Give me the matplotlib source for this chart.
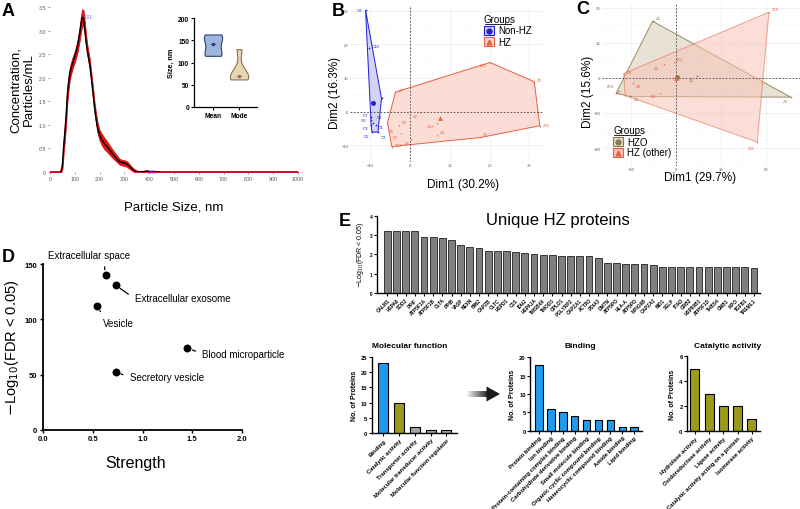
import numpy as np
import matplotlib
matplotlib.use("Agg")
import matplotlib.pyplot as plt
from matplotlib.patches import Rectangle, Polygon
from matplotlib.lines import Line2D

plt.rcParams['font.family'] = ['Liberation Sans', 'DejaVu Sans']

# ---------------- DATA ----------------
# A: NTA size distribution
nta_size = [0, 40, 45, 50, 55, 60, 65, 70, 75, 80, 90, 100, 110, 120, 125, 130, 135, 140, 145, 150,
            155, 160, 170, 180, 190, 200, 210, 220, 230, 240, 250, 260, 270, 280, 290, 300, 310, 320,
            330, 340, 350, 360, 380, 389, 400, 450, 1000]
nta_conc = [0, 0, 0.02, 0.15, 0.55, 0.85, 1.2, 1.65, 1.9, 2.1, 2.3, 2.45, 2.65, 2.95, 3.15, 3.28, 3.27,
            3.05, 2.8, 2.6, 2.45, 2.3, 1.85, 1.35, 0.98, 0.78, 0.68, 0.6, 0.54, 0.47, 0.4, 0.34, 0.28,
            0.22, 0.2, 0.19, 0.17, 0.12, 0.07, 0.03, 0.01, 0, 0.01, 0.02, 0.01, 0, 0]
nta_err = [0, 0, 0.03, 0.1, 0.15, 0.17, 0.18, 0.17, 0.15, 0.13, 0.12, 0.12, 0.13, 0.15, 0.17, 0.18, 0.17,
           0.15, 0.13, 0.12, 0.11, 0.11, 0.11, 0.11, 0.11, 0.11, 0.12, 0.12, 0.11, 0.1, 0.09, 0.08, 0.07,
           0.06, 0.06, 0.06, 0.06, 0.05, 0.04, 0.03, 0.02, 0.01, 0.01, 0.02, 0.01, 0, 0]
nta_peak_labels = [(131, 3.3, "131"), (389, 0.02, "389")]

# A inset: sizes
inset_groups = ["Mean", "Mode"]
size_mean = [115, 120, 141, 158, 163]
size_mode = [62, 66, 70, 76, 130]

# B: PCA Non-HZ vs HZ
b_nonhz_lab = ["C1", "C2", "C3", "C4", "C5", "C6", "C7", "C8", "C9", "C10"]
b_nonhz_x = [-9.2, -8.0, -9.7, -8.5, -9.5, -9.7, -9.7, -11.1, -7.1, -10.3]
b_nonhz_y = [-3.3, -6.1, -4.0, -4.0, -6.1, -2.6, -1.7, 30.2, 3.9, 18.8]
b_hz_lab = ["Z1", "Z2", "Z3", "Z4", "Z5", "Z6", "Z7", "Z8", "Z9", "Z10", "Z11", "Z12", "Z13"]
b_hz_x = [-3.6, 2.6, 31.2, 6.7, 17.8, 0.4, -2.1, -5.6, -2.8, 20.1, 32.6, 6.9, -4.5]
b_hz_y = [5.8, 0.0, 8.9, -7.0, -7.7, -8.2, -6.3, -3.3, -4.0, 14.6, -4.2, -3.4, -10.4]

# C: PCA HZO vs HZ (other)
c_hzo_lab = ["Z1", "Z3", "Z5", "Z6", "Z13"]
c_hzo_x = [-5.2, 25.5, 4.6, -10.1, -13.3]
c_hzo_y = [16.1, -5.5, 0.4, -5.3, -4.4]
c_oth_lab = ["Z10", "Z11", "Z8", "Z7", "Z9", "Z2", "Z12", "Z4"]
c_oth_x = [20.7, 18.1, -11.6, -11.3, -9.5, -2.7, -0.4, -3.6]
c_oth_y = [18.7, -18.3, 1.2, -5.0, -1.6, 3.8, 4.5, -4.2]

# D: GO cellular component
d_terms = ["Extracellular space", "Extracellular exosome", "Vesicle", "Blood microparticle", "Secretory vesicle"]
d_strength = [0.63, 0.73, 0.54, 1.45, 0.73]
d_logfdr = [140, 131, 112, 74, 52.5]

# E: unique HZ proteins
e_prot = ["CALM1", "HSPA8", "SOD2", "PPIF", "ATP5F1A", "ATP5F1B", "CLTA", "PPIB", "VASP", "NEXN", "BIN2",
          "CAPZB", "CLTC", "HSPD1", "C1S", "IDH2", "HSPA1A", "TMSB4X", "TMOD3", "GPLD1", "PGLYRP2",
          "CAPZA1", "ACTR3", "PDIA3", "DMTN", "ATP5PO", "HLA-A", "ATP5PD", "MPIG6B", "CAPZA2", "NID1",
          "SELP", "ITIH3", "GRB2", "HSP90B1", "ATP5F1D", "THBS4", "GNB1", "MPO", "TGFB1", "TREML1"]
e_val = [3.22, 3.22, 3.22, 3.19, 2.88, 2.88, 2.83, 2.72, 2.5, 2.38, 2.31, 2.19, 2.16, 2.16, 2.1, 2.07,
         2.02, 1.98, 1.98, 1.91, 1.91, 1.91, 1.91, 1.81, 1.55, 1.55, 1.48, 1.48, 1.48, 1.43, 1.34,
         1.34, 1.34, 1.33, 1.33, 1.33, 1.32, 1.32, 1.32, 1.32, 1.31]

mf_terms = ["Binding", "Catalytic activity", "Transporter activity", "Molecular transducer activity",
            "Molecular function regulator"]
mf_counts = [23, 10, 2, 1, 1]
bind_terms = ["Protein binding", "Ion binding", "Protein-containing complex binding",
              "Carbohydrate derivative binding", "Small molecule binding", "Organic cyclic compound binding",
              "Heterocyclic compound binding", "Amide binding", "Lipid binding"]
bind_counts = [18, 6, 5, 4, 3, 3, 3, 1, 1]
cat_terms = ["Hydrolase activity", "Oxidoreductase activity", "Ligase activity",
             "Catalytic activity acting on a protein", "Isomerase activity"]
cat_counts = [5, 3, 2, 2, 1]

# ---------------- FIGURE ----------------
W, H = 800, 510
fig = plt.figure(figsize=(8, 5.1), dpi=100)


def add_ax(l, t, r, b):
    return fig.add_axes([l / W, 1 - b / H, (r - l) / W, (b - t) / H])


def ftext(px, py, s, **kw):
    fig.text(px / W, 1 - py / H, s, **kw)


BLUE = "#1E9BF0"
OLIVE = "#9C991C"

# ---------------- Panel A ----------------
axA = add_ax(50, 8.3, 298, 173)
s = np.array(nta_size, float)
c = np.array(nta_conc, float)
e = np.array(nta_err, float)
axA.fill_between(s, np.clip(c - e, 0, None), c + e, color="#E8140E", lw=0.6, edgecolor="#D01010", zorder=2)
axA.plot(s, c, color="black", lw=1.0, zorder=3)
for xx, yy, t in nta_peak_labels:
    axA.text(xx + 4, yy, t, color="#7B68EE", fontsize=3.8, va="center", ha="left")
axA.set_xlim(0, 1000)
axA.set_ylim(0, 3.5)
axA.set_xticks(range(0, 1001, 100))
axA.set_yticks([0, 0.5, 1, 1.5, 2, 2.5, 3, 3.5])
axA.set_yticklabels(["0", "0.5", "1.0", "1.5", "2.0", "2.5", "3.0", "3.5"])
axA.tick_params(labelsize=3.8, colors="#555555", length=1.5, width=0.4, pad=1.5)
for sp in axA.spines.values():
    sp.set_visible(False)
axA.set_facecolor("none")
ftext(174, 208, "Particle Size, nm", fontsize=9.5, ha="center", va="center")
ftext(22, 90, "Concentration,\nParticles/mL", fontsize=9.5, ha="center", va="center", rotation=90,
      linespacing=1.1)
ftext(8, 12, "A", fontsize=13, fontweight="bold", ha="center", va="center")

# inset
axI = add_ax(194, 19, 257, 108)
parts = axI.violinplot([size_mean, size_mode], positions=[0, 1], widths=0.7, showextrema=False,
                       bw_method=0.6)
for body, fc, ec in zip(parts["bodies"], ["#9DB6DE", "#E6D6B8"], ["#2B3F73", "#8C7450"]):
    body.set_facecolor(fc)
    body.set_edgecolor(ec)
    body.set_linewidth(0.8)
    body.set_alpha(1)
for i, (d, ec) in enumerate(zip([size_mean, size_mode], ["#2B3F73", "#8C7450"])):
    q1, med, q3 = np.percentile(d, [25, 50, 75])
    axI.plot([i - 0.12, i + 0.12], [med, med], color=ec, lw=0.5, ls="--")
    axI.plot([i], [med], "o", color=ec, ms=1.5)
axI.set_xlim(-0.73, 1.69)
axI.set_ylim(0, 200)
axI.set_yticks([0, 50, 100, 150, 200])
axI.set_xticks([0, 1])
axI.set_xticklabels(inset_groups)
axI.tick_params(labelsize=4.8, length=2, width=0.8, pad=1.5)
for t in axI.get_xticklabels() + axI.get_yticklabels():
    t.set_fontweight("bold")
axI.spines["top"].set_visible(False)
axI.spines["right"].set_visible(False)
for sp in ["left", "bottom"]:
    axI.spines[sp].set_linewidth(0.9)
axI.set_ylabel("Size, nm", fontsize=5.2, fontweight="bold", labelpad=2)


# ---------------- PCA helpers ----------------
def hull(xs, ys):
    pts = sorted(set(zip(xs, ys)))
    if len(pts) <= 2:
        return pts

    def cross(o, a, b):
        return (a[0] - o[0]) * (b[1] - o[1]) - (a[1] - o[1]) * (b[0] - o[0])
    lower, upper = [], []
    for p in pts:
        while len(lower) >= 2 and cross(lower[-2], lower[-1], p) <= 0:
            lower.pop()
        lower.append(p)
    for p in reversed(pts):
        while len(upper) >= 2 and cross(upper[-2], upper[-1], p) <= 0:
            upper.pop()
        upper.append(p)
    return lower[:-1] + upper[:-1]


def pca_group(ax, xs, ys, labs, color, fill, marker, offsets, alpha=1.0):
    h = hull(xs, ys)
    ax.add_patch(Polygon(h, closed=True, facecolor=fill, edgecolor=color, lw=0.7, alpha=alpha, zorder=2))
    ax.scatter(xs, ys, s=1.5, color=color, marker=marker, zorder=4, lw=0)
    for x, y, lb in zip(xs, ys, labs):
        dx, dy = offsets.get(lb, (3, 2))
        ax.annotate(lb, (x, y), xytext=(dx, dy), textcoords="offset pixels", fontsize=3.1, color=color,
                    ha="left" if dx >= 0 else "right", va="center", zorder=5)
    ax.scatter([np.mean(xs)], [np.mean(ys)], s=12, color=color, marker=marker, zorder=5, lw=0)


def pca_axes(ax, xlim, ylim, ticks_x, ticks_y):
    ax.set_xlim(*xlim)
    ax.set_ylim(*ylim)
    ax.set_xticks(ticks_x)
    ax.set_yticks(ticks_y)
    ax.set_xticks([t + 5 for t in ticks_x[:-1]] + [ticks_x[0] - 5], minor=True)
    ax.set_yticks([t + 5 for t in ticks_y[:-1]] + [ticks_y[0] - 5], minor=True)
    ax.grid(True, which="major", color="#EBEBEB", lw=0.5)
    ax.grid(True, which="minor", color="#F3F3F3", lw=0.3)
    ax.set_axisbelow(True)
    ax.tick_params(which="both", length=0, labelsize=3, colors="#555555", pad=1)
    for sp in ax.spines.values():
        sp.set_visible(False)
    ax.axhline(0, color="#444444", lw=0.6, ls=(0, (2, 2)), zorder=3)
    ax.axvline(0, color="#444444", lw=0.6, ls=(0, (2, 2)), zorder=3)


def legend_box(px, py, title, entries):
    ftext(px, py, title, fontsize=7, ha="left", va="center")
    fig.add_artist(Line2D([(px + 0.5) / W, (px + 27) / W], [1 - (py + 4.5) / H] * 2, color="black", lw=0.6))
    for i, (lab, col, fill, mk) in enumerate(entries):
        yy = py + 11.5 + i * 11
        fig.add_artist(Rectangle((px / W, 1 - (yy + 4.5) / H), 10 / W, 9 / H, facecolor=fill,
                                 edgecolor=col, lw=0.8, transform=fig.transFigure))
        fig.add_artist(Line2D([(px + 5) / W], [1 - yy / H], marker=mk, color=col, ms=3.5, ls=""))
        ftext(px + 14, yy, lab, fontsize=7, ha="left", va="center")


# ---------------- Panel B ----------------
axB = add_ax(350, 7, 543, 163)
pca_axes(axB, (-14.7, 33.4), (-12.4, 31.4), [-10, 0, 10, 20, 30], [-10, 0, 10, 20, 30])
BL = "#1F1FD6"
RD = "#E8603F"
offB_non = {"C8": (-3, 0), "C10": (3, 2), "C9": (-5, -4), "C7": (-3, 2), "C6": (-5, 0), "C1": (4, 6),
            "C3": (-3, -3), "C4": (2, -2), "C5": (-3, -4), "C2": (3, -5)}
offB_hz = {"Z1": (3, 2), "Z2": (-2, -4), "Z3": (3, 2), "Z4": (3, 3), "Z5": (2, 3), "Z6": (-2, -4),
           "Z7": (-4, -4), "Z8": (1, -8), "Z9": (3, 3), "Z10": (-3, -3), "Z11": (3, 1), "Z12": (-3, -3),
           "Z13": (3, 2)}
pca_group(axB, b_nonhz_x, b_nonhz_y, b_nonhz_lab, BL, "#D3D3F5", "o", offB_non)
pca_group(axB, b_hz_x, b_hz_y, b_hz_lab, RD, "#FBDDD6", "^", offB_hz)
ftext(463, 185, "Dim1 (30.2%)", fontsize=8.5, ha="center", va="center")
ftext(335, 93, "Dim2 (16.3%)", fontsize=8.5, ha="center", va="center", rotation=90)
ftext(338, 12, "B", fontsize=13, fontweight="bold", ha="center", va="center")
legend_box(484, 20, "Groups", [("Non-HZ", BL, "#D3D3F5", "o"), ("HZ", RD, "#FBDDD6", "^")])

# ---------------- Panel C ----------------
axC = add_ax(601.7, 5, 800, 166.7)
pca_axes(axC, (-16.5, 27.6), (-21.1, 21), [-10, 0, 10, 20], [-20, -10, 0, 10, 20])
TN = "#8C7A4E"
offC_hzo = {"Z1": (3, 3), "Z3": (-3, -4), "Z5": (-3, -4), "Z6": (3, -3), "Z13": (-2, 7)}
offC_oth = {"Z10": (3, 3), "Z11": (-2, -6), "Z8": (3, 2), "Z7": (-3, 3), "Z9": (3, -3), "Z2": (-5, -4),
            "Z12": (2, 3), "Z4": (-4, -3)}
pca_group(axC, c_hzo_x, c_hzo_y, c_hzo_lab, TN, "#E5DDCF", "o", offC_hzo, alpha=0.85)
pca_group(axC, c_oth_x, c_oth_y, c_oth_lab, RD, "#F7C3B6", "^", offC_oth, alpha=0.55)
ftext(700, 178, "Dim1 (29.7%)", fontsize=8.5, ha="center", va="center")
ftext(588, 92, "Dim2 (15.6%)", fontsize=8.5, ha="center", va="center", rotation=90)
ftext(583, 10, "C", fontsize=13, fontweight="bold", ha="center", va="center")
legend_box(613, 131, "Groups", [("HZO", TN, "#E5DDCF", "o"), ("HZ (other)", RD, "#F7C3B6", "^")])


# ---------------- GraphPad style helper ----------------
def prism(ax, lw=1.2):
    ax.spines["top"].set_visible(False)
    ax.spines["right"].set_visible(False)
    for sp in ["left", "bottom"]:
        ax.spines[sp].set_linewidth(lw)
    ax.tick_params(width=lw * 0.8, length=2.5)


# ---------------- Panel D ----------------
axD = add_ax(43, 265.3, 242, 430.7)
axD.scatter(d_strength, d_logfdr, s=22, color="black", zorder=3)
d_text = [(0.46, 158.5, "center", (0.68, 0.0)),
          (0.92, 119, "left", (0.0, 0.5)),
          (0.605, 97, "left", (0.1, 0.8)),
          (1.6, 69, "left", (0.0, 0.5)),
          (0.87, 47.5, "left", (0.0, 0.5))]
for (tx, ty, ha, rp), x, y, lab in zip(d_text, d_strength, d_logfdr, d_terms):
    axD.annotate(lab, (x, y), xytext=(tx, ty), ha=ha, va="center", fontsize=7, annotation_clip=False,
                 arrowprops=dict(arrowstyle="-", lw=0.9, color="black", shrinkA=3, shrinkB=4, relpos=rp))
axD.set_xlim(0, 2.0)
axD.set_ylim(0, 150)
axD.set_xticks([0, 0.5, 1.0, 1.5, 2.0])
axD.set_xticklabels(["0.0", "0.5", "1.0", "1.5", "2.0"])
axD.set_yticks([0, 50, 100, 150])
prism(axD, 1.3)
axD.tick_params(labelsize=5.5, pad=1.5)
for t in axD.get_xticklabels() + axD.get_yticklabels():
    t.set_fontweight("bold")
ftext(136, 464, "Strength", fontsize=11.5, ha="center", va="center")
ftext(12, 348, r"$-$Log$_{10}$(FDR < 0.05)", fontsize=10.5, ha="center", va="center", rotation=90)
ftext(8, 257, "D", fontsize=13, fontweight="bold", ha="center", va="center")

# ---------------- Panel E top ----------------
axE = add_ax(376.7, 216.7, 760, 294)
xe = np.arange(len(e_prot))
axE.bar(xe, e_val, width=0.75, color="#7F7F7F", edgecolor="black", lw=0.5)
axE.set_xlim(-1.16, 40.65)
axE.set_ylim(0, 4)
axE.set_yticks([0, 1, 2, 3, 4])
axE.set_xticks(xe)
axE.set_xticklabels(e_prot, rotation=45, ha="right", rotation_mode="anchor")
prism(axE, 1.0)
axE.tick_params(labelsize=3.4, length=2, pad=1)
for t in axE.get_xticklabels() + axE.get_yticklabels():
    t.set_fontweight("bold")
axE.set_ylabel(r"$-$Log$_{10}$(FDR < 0.05)", fontsize=5, labelpad=3)
ftext(558, 220, "Unique HZ proteins", fontsize=12, ha="center", va="center")
ftext(345, 222, "E", fontsize=13, fontweight="bold", ha="center", va="center")


# ---------------- Panel E bottom ----------------
def small_bar(box, terms, counts, colors, ylim, yticks, xlim, title, title_x):
    ax = add_ax(*box)
    xx = np.arange(len(terms))
    ax.bar(xx, counts, width=0.63, color=colors, edgecolor="black", lw=0.8)
    ax.set_xlim(*xlim)
    ax.set_ylim(*ylim)
    ax.set_yticks(yticks)
    ax.set_xticks(xx)
    ax.set_xticklabels(terms, rotation=45, ha="right", rotation_mode="anchor")
    prism(ax, 1.0)
    ax.tick_params(labelsize=4.2, length=2, pad=1)
    for t in ax.get_xticklabels() + ax.get_yticklabels():
        t.set_fontweight("bold")
    ax.set_ylabel("No. of Proteins", fontsize=5, fontweight="bold", labelpad=2)
    ftext(title_x, 347, title, fontsize=6, fontweight="bold", ha="center", va="center")
    return ax


small_bar((371.7, 357.7, 456.7, 434.3), mf_terms, mf_counts, [BLUE, OLIVE, "#A6A6A6", "#A6A6A6", "#A6A6A6"],
          (0, 25), [0, 5, 10, 15, 20, 25], (-0.73, 4.65), "Molecular function", 410)
small_bar((530, 358.3, 641.7, 431.7), bind_terms, bind_counts, [BLUE] * len(bind_terms),
          (0, 20), [0, 5, 10, 15, 20], (-0.76, 8.63), "Binding", 580)
small_bar((686.7, 357.3, 760, 432.3), cat_terms, cat_counts, [OLIVE] * len(cat_terms),
          (0, 6), [0, 2, 4, 6], (-0.58, 4.58), "Catalytic activity", 728)

# gradient arrow
n = 20
for i in range(n):
    x0 = 466.7 + i * 1.0
    g = 0.95 - 0.8 * i / n
    fig.add_artist(Rectangle((x0 / W, 1 - 398.3 / H), 1.05 / W, 6.6 / H, facecolor=(g, g, g), lw=0,
                             transform=fig.transFigure))
fig.add_artist(Polygon([[486.5 / W, 1 - 387.5 / H], [500 / W, 1 - 395 / H], [486.5 / W, 1 - 402.5 / H]],
                       closed=True, facecolor="#1A1A1A", lw=0, transform=fig.transFigure))

fig.savefig("out.png", dpi=100)
